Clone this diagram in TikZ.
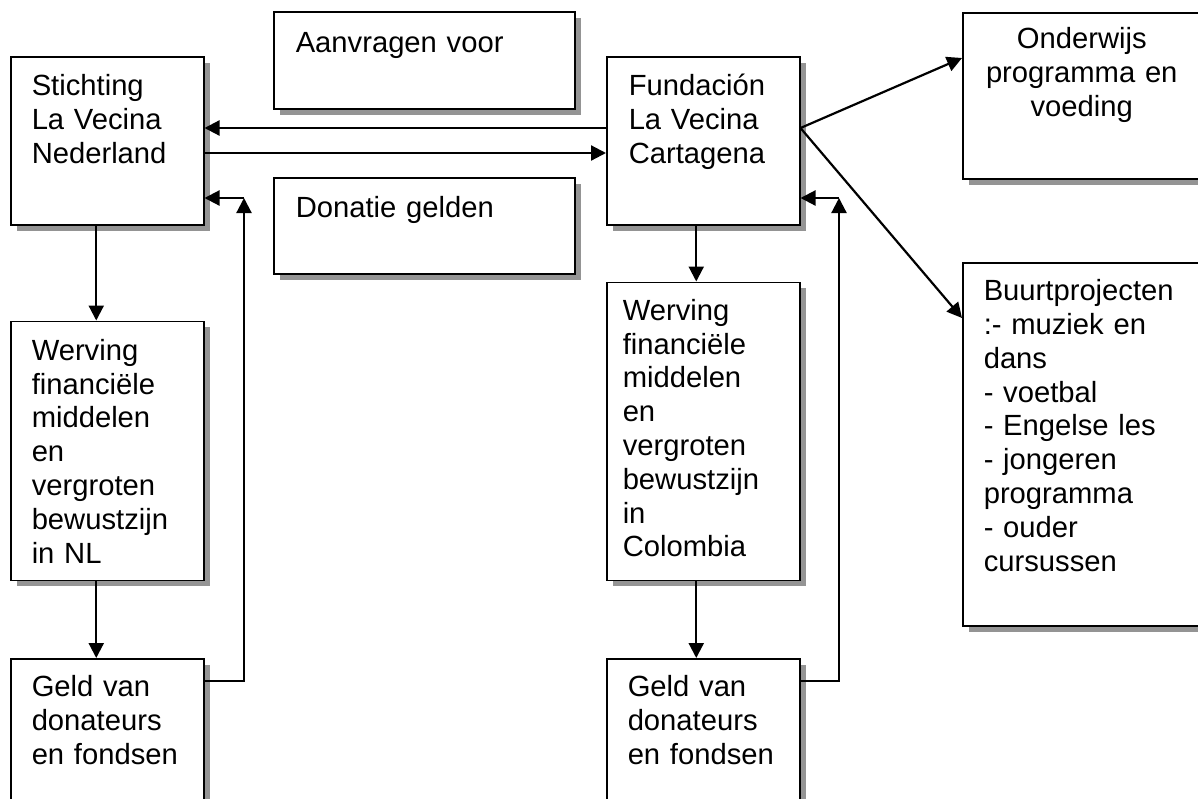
\documentclass[tikz,border=0pt]{standalone}
\usepackage{fontspec}
\setmainfont{Liberation Sans}
\usetikzlibrary{positioning,shadows,arrows.meta}
\tikzset{box node/.style={draw,line width=0.75pt,fill=white,
    drop shadow={shadow xshift=3pt,shadow yshift=-3pt,fill=black!42,opacity=1},
    anchor=north west,align=left,inner ysep=0pt,inner xsep=10.5pt,text width=75.5pt,
    text height=19.5pt,font=\fontsize{14.6}{16.9}\selectfont},
  link/.style={line width=1.1pt,-{Triangle[length=7.5pt,width=7.5pt]}},}

\begin{document}
\begin{tikzpicture}[x=0.5pt,y=-0.5pt]
    \useasboundingbox (0,0) rectangle (1198,798);
    \clip (0,0) rectangle (1198,798);

    \node[box node,text depth=64.5pt] (stnl) at (10,56) {Stichting\\La Vecina\\Nederland};
    \node[box node,text depth=28pt,inner xsep=11pt,text width=128.5pt,text height=20.5pt] (aanv) at (273,11) {Aanvragen voor};
    \node[box node,text depth=28pt,inner xsep=11pt,text width=128.5pt,text height=20pt] (don) at (273,177) {Donatie gelden};
    \node[box node,text depth=64.5pt,inner xsep=11pt,text width=74.5pt] (fcar) at (606,56) {Fundación\\La Vecina\\Cartagena};
    \node[box node,text depth=65pt,inner xsep=5pt,text width=109pt,text height=18pt,align=center] (ond) at (962,12) {Onderwijs\\programma en\\voeding};
    \node[box node,text depth=162.5pt,text width=98pt,text height=19pt] (buurt) at (962,262) {Buurtprojecten\\:- muziek en\\dans\\- voetbal\\- Engelse les\\- jongeren\\programma\\- ouder\\cursussen};

    \node[box node,text depth=110pt,anchor=north] (wnl) [below=47.5pt of stnl] {Werving\\financiële\\middelen\\en\\vergroten\\bewustzijn\\in NL};
    \node[box node,text depth=61pt,text height=19pt,anchor=north] (gnl) [below=38.5pt of wnl] {Geld van\\donateurs\\en fondsen};
    \node[box node,text depth=130pt,text height=19pt,inner xsep=8pt,text width=80.5pt,anchor=north] (wcol) [below=28pt of fcar] {Werving\\financiële\\middelen\\en\\vergroten\\bewustzijn\\in\\Colombia};
    \node[box node,text depth=61pt,text height=19pt,anchor=north] (gcol) [below=38.5pt of wcol] {Geld van\\donateurs\\en fondsen};

    \coordinate (fbl) at (244,198);
    \coordinate (fbr) at (839,198);

    \path[link]
    ([yshift=-36pt]fcar.north west) edge ([yshift=-36pt]stnl.north east)
    ([yshift=-48.5pt]stnl.north east) edge ([yshift=-48.5pt]fcar.north west)
    ([yshift=-36pt]fcar.north east) edge ([yshift=-23pt]ond.north west)
    ([yshift=-36pt]fcar.north east) edge ([yshift=-28pt]buurt.north west)
    ([xshift=-5.5pt]stnl.south) edge ([xshift=-5.5pt]wnl.north)
    ([xshift=-5.5pt]wnl.south) edge ([xshift=-5.5pt]gnl.north)
    ([xshift=-3.5pt]fcar.south) edge ([xshift=-3.5pt]wcol.north)
    ([xshift=-3.5pt]wcol.south) edge ([xshift=-3.5pt]gcol.north)
    (fbl) edge (stnl.east |- fbl)
    (fbr) edge (fcar.east |- fbr);

    \draw[link] ([yshift=-11.5pt]gnl.north east) -| (fbl);
    \draw[link] ([yshift=-11.5pt]gcol.north east) -| (fbr);
\end{tikzpicture}
\end{document}
